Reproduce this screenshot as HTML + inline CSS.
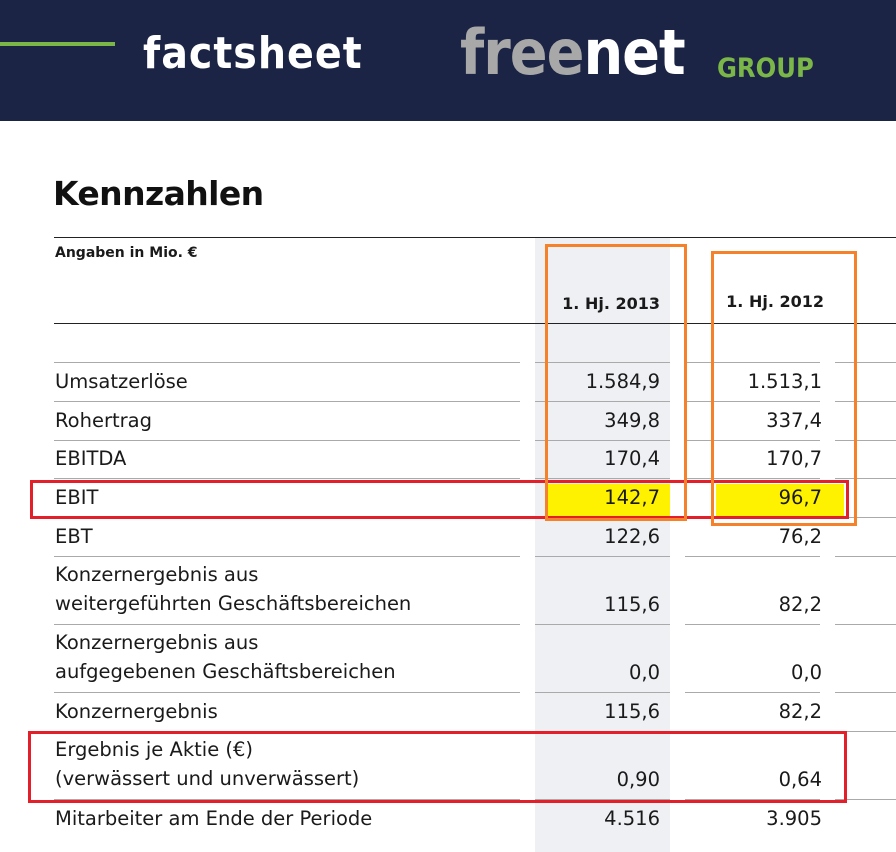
<!DOCTYPE html>
<html><head><meta charset="utf-8"><style>
*{margin:0;padding:0;box-sizing:border-box}
body{width:896px;height:852px;overflow:hidden;background:#fff;font-family:"DejaVu Sans","Liberation Sans",sans-serif;position:relative;color:#1a1a1a}
.a{position:absolute}
.hdr{left:0;top:0;width:896px;height:121px;background:#1b2444}
.lbl{font-size:19.5px;left:55px;white-space:nowrap;line-height:29px}
.v{font-size:19.5px;text-align:right;width:120px;line-height:29px}
.sep{height:1px;background:#aaa}
</style></head><body>
<div class="a hdr"></div>
<div class="a" style="left:0;top:42px;width:115px;height:4px;background:#7ab648"></div>
<div class="a" style="left:143px;top:28px;font-size:44px;font-weight:bold;color:#fff;font-family:'DejaVu Sans Condensed','DejaVu Sans',sans-serif;letter-spacing:1px">factsheet</div>
<div class="a" style="left:460px;top:16px;font-size:62px;font-weight:bold;font-family:'DejaVu Sans Condensed','DejaVu Sans',sans-serif;letter-spacing:-1px;white-space:nowrap"><span style="color:#a8a8a8">free</span><span style="color:#fff">net</span></div>
<div class="a" style="left:717px;top:53px;font-size:27px;font-weight:bold;color:#7ab648;font-family:'DejaVu Sans Condensed','DejaVu Sans',sans-serif">GROUP</div>
<div class="a" style="left:53px;top:174px;font-size:33px;font-weight:bold;color:#111;letter-spacing:-0.6px">Kennzahlen</div>
<div class="a" style="left:535px;top:238px;width:135px;height:614px;background:#eef0f4"></div>
<div class="a" style="left:54px;top:237px;width:842px;height:1px;background:#222"></div>
<div class="a" style="left:54px;top:323px;width:842px;height:1px;background:#222"></div>
<div class="a" style="left:55px;top:245px;font-size:14px;font-weight:bold">Angaben in Mio. €</div>
<div class="a" style="left:540px;top:294px;width:120px;text-align:right;font-size:16px;font-weight:bold">1. Hj. 2013</div>
<div class="a" style="left:704px;top:292px;width:120px;text-align:right;font-size:16px;font-weight:bold">1. Hj. 2012</div>
<div class="a" style="left:548px;top:484px;width:122px;height:32px;background:#fff200"></div>
<div class="a" style="left:716px;top:484px;width:128px;height:32px;background:#fff200"></div>
<div id="rows"></div>
<div class="a" style="left:30px;top:480px;width:819px;height:39px;border:3px solid #e3202a"></div>
<div class="a" style="left:28px;top:731px;width:819px;height:72px;border:3px solid #e3202a"></div>
<div class="a" style="left:545px;top:244px;width:142px;height:277px;border:3px solid #f5822a"></div>
<div class="a" style="left:711px;top:251px;width:146px;height:275px;border:3px solid #f5822a"></div>
<script>
const labels=[["Umsatzerlöse"],["Rohertrag"],["EBITDA"],["EBIT"],["EBT"],["Konzernergebnis aus","weitergeführten Geschäftsbereichen"],["Konzernergebnis aus","aufgegebenen Geschäftsbereichen"],["Konzernergebnis"],["Ergebnis je Aktie (€)","(verwässert und unverwässert)"],["Mitarbeiter am Ende der Periode"]];
const v2013=["1.584,9","349,8","170,4","142,7","122,6","115,6","0,0","115,6","0,90","4.516"];
const v2012=["1.513,1","337,4","170,7","96,7","76,2","82,2","0,0","82,2","0,64","3.905"];
const root=document.getElementById('rows');
let y=362;
labels.forEach((l,i)=>{
  const h=l.length===1?38.8:68;
  [[54,466],[535,135],[685,135],[835,61]].forEach(s=>{
    const d=document.createElement('div');d.className='a sep';
    d.style.left=s[0]+'px';d.style.top=y+'px';d.style.width=s[1]+'px';
    
    
    root.appendChild(d);
  });
  const ty=y+h-34;
  const lb=document.createElement('div');lb.className='a lbl';
  lb.style.top=(l.length===1?ty:y+4)+'px';lb.innerHTML=l.join('<br>');
  
  
  root.appendChild(lb);
  const a=document.createElement('div');a.className='a v';a.style.left='540px';a.style.top=ty+'px';a.textContent=v2013[i];
  
  
  root.appendChild(a);
  const b=document.createElement('div');b.className='a v';b.style.left='702px';b.style.top=ty+'px';b.textContent=v2012[i];
  
  
  root.appendChild(b);
  y+=h;
});
</script>
</body></html>
